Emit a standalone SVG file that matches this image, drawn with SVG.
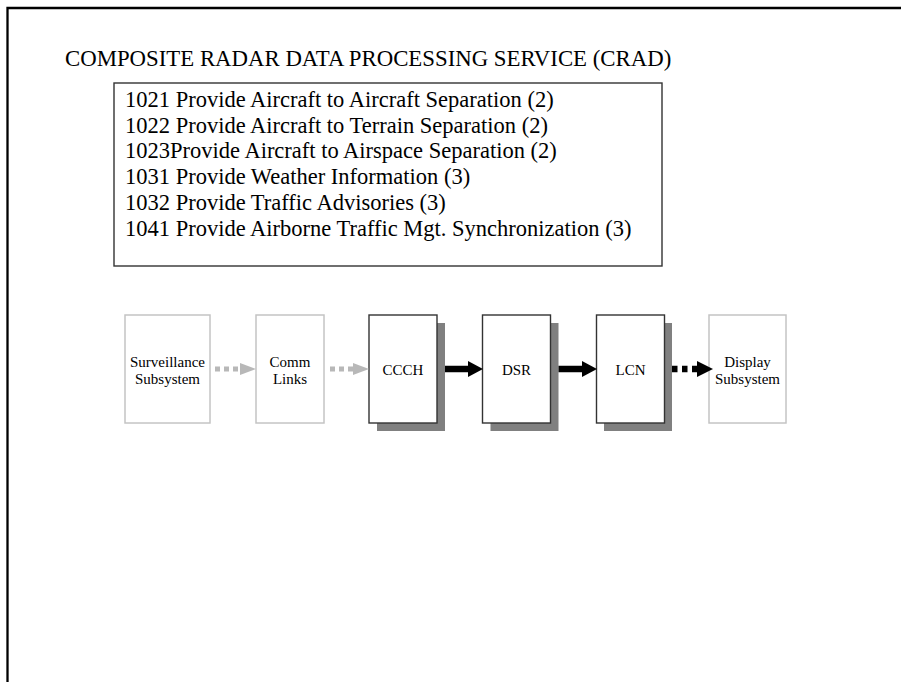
<svg xmlns="http://www.w3.org/2000/svg" width="901" height="682" viewBox="0 0 901 682">
<style>
text{font-family:"Liberation Serif","Times New Roman",serif;fill:#000}
.title{font-size:22.8px}
.li{font-size:22.5px}
.lbl{font-size:15px;text-anchor:middle}
.ghost{fill:#fff;stroke:#c4c4c4;stroke-width:1.5}
.box{fill:#fff;stroke:#333;stroke-width:1.4}
.shadow{fill:#808080}
.gline{stroke:#b8b8b8;stroke-width:5;stroke-dasharray:5 4;fill:none}
.bline{stroke:#000;stroke-width:6.5;fill:none}
.bdash{stroke:#000;stroke-width:6.5;stroke-dasharray:5.5 4.5;fill:none}
.ghead{fill:#b8b8b8}
.bhead{fill:#000}
</style>
<rect width="901" height="682" fill="#fff"/>
<g id="frame" stroke="#000" stroke-width="2.3" fill="none">
<path d="M7.5,682 V8 H901"/>
</g>
<g id="title"><text class="title" x="65" y="66">COMPOSITE RADAR DATA PROCESSING SERVICE (CRAD)</text></g>
<g id="functions">
<rect x="114" y="83" width="548" height="183" fill="#fff" stroke="#333" stroke-width="1.4"/>
<text class="li" x="125" y="107">1021 Provide Aircraft to Aircraft Separation (2)</text>
<text class="li" x="125" y="132.7">1022 Provide Aircraft to Terrain Separation (2)</text>
<text class="li" x="125" y="158.4">1023Provide Aircraft to Airspace Separation (2)</text>
<text class="li" x="125" y="184.1">1031 Provide Weather Information (3)</text>
<text class="li" x="125" y="209.8">1032 Provide Traffic Advisories (3)</text>
<text class="li" x="125" y="235.5">1041 Provide Airborne Traffic Mgt. Synchronization (3)</text>
</g>
<g id="surveillance">
<rect class="ghost" x="125" y="315" width="85" height="108"/>
<text class="lbl" x="167.5" y="366.5">Surveillance</text>
<text class="lbl" x="167.5" y="383.5">Subsystem</text>
</g>
<g id="comm">
<rect class="ghost" x="256" y="315" width="68" height="108"/>
<text class="lbl" x="290" y="366.5">Comm</text>
<text class="lbl" x="290" y="383.5">Links</text>
</g>
<g id="ccch">
<rect class="shadow" x="377" y="323" width="68" height="108"/>
<rect class="box" x="369" y="315" width="68" height="108"/>
<text class="lbl" x="403" y="375">CCCH</text>
</g>
<g id="dsr">
<rect class="shadow" x="490.5" y="323" width="68" height="108"/>
<rect class="box" x="482.5" y="315" width="68" height="108"/>
<text class="lbl" x="516.5" y="375">DSR</text>
</g>
<g id="lcn">
<rect class="shadow" x="604" y="323" width="68" height="108"/>
<rect class="box" x="596.5" y="315" width="68" height="108"/>
<text class="lbl" x="630.5" y="375">LCN</text>
</g>
<g id="display">
<rect class="ghost" x="709" y="315" width="77" height="108"/>
<text class="lbl" x="747.5" y="366.5">Display</text>
<text class="lbl" x="747.5" y="383.5">Subsystem</text>
</g>
<g id="connectors">
<path class="gline" d="M215,369 H240"/>
<polygon class="ghead" points="240,363 256,369 240,375"/>
<path class="gline" d="M330,369 H353"/>
<polygon class="ghead" points="353,363 369,369 353,375"/>
<path class="bline" d="M445,369 H469"/>
<polygon class="bhead" points="468,361 483,369 468,377"/>
<path class="bline" d="M558.5,369 H583"/>
<polygon class="bhead" points="582,361 597,369 582,377"/>
<path class="bdash" d="M672,369 H697"/>
<polygon class="bhead" points="697,361 713,369 697,377"/>
</g>
</svg>
